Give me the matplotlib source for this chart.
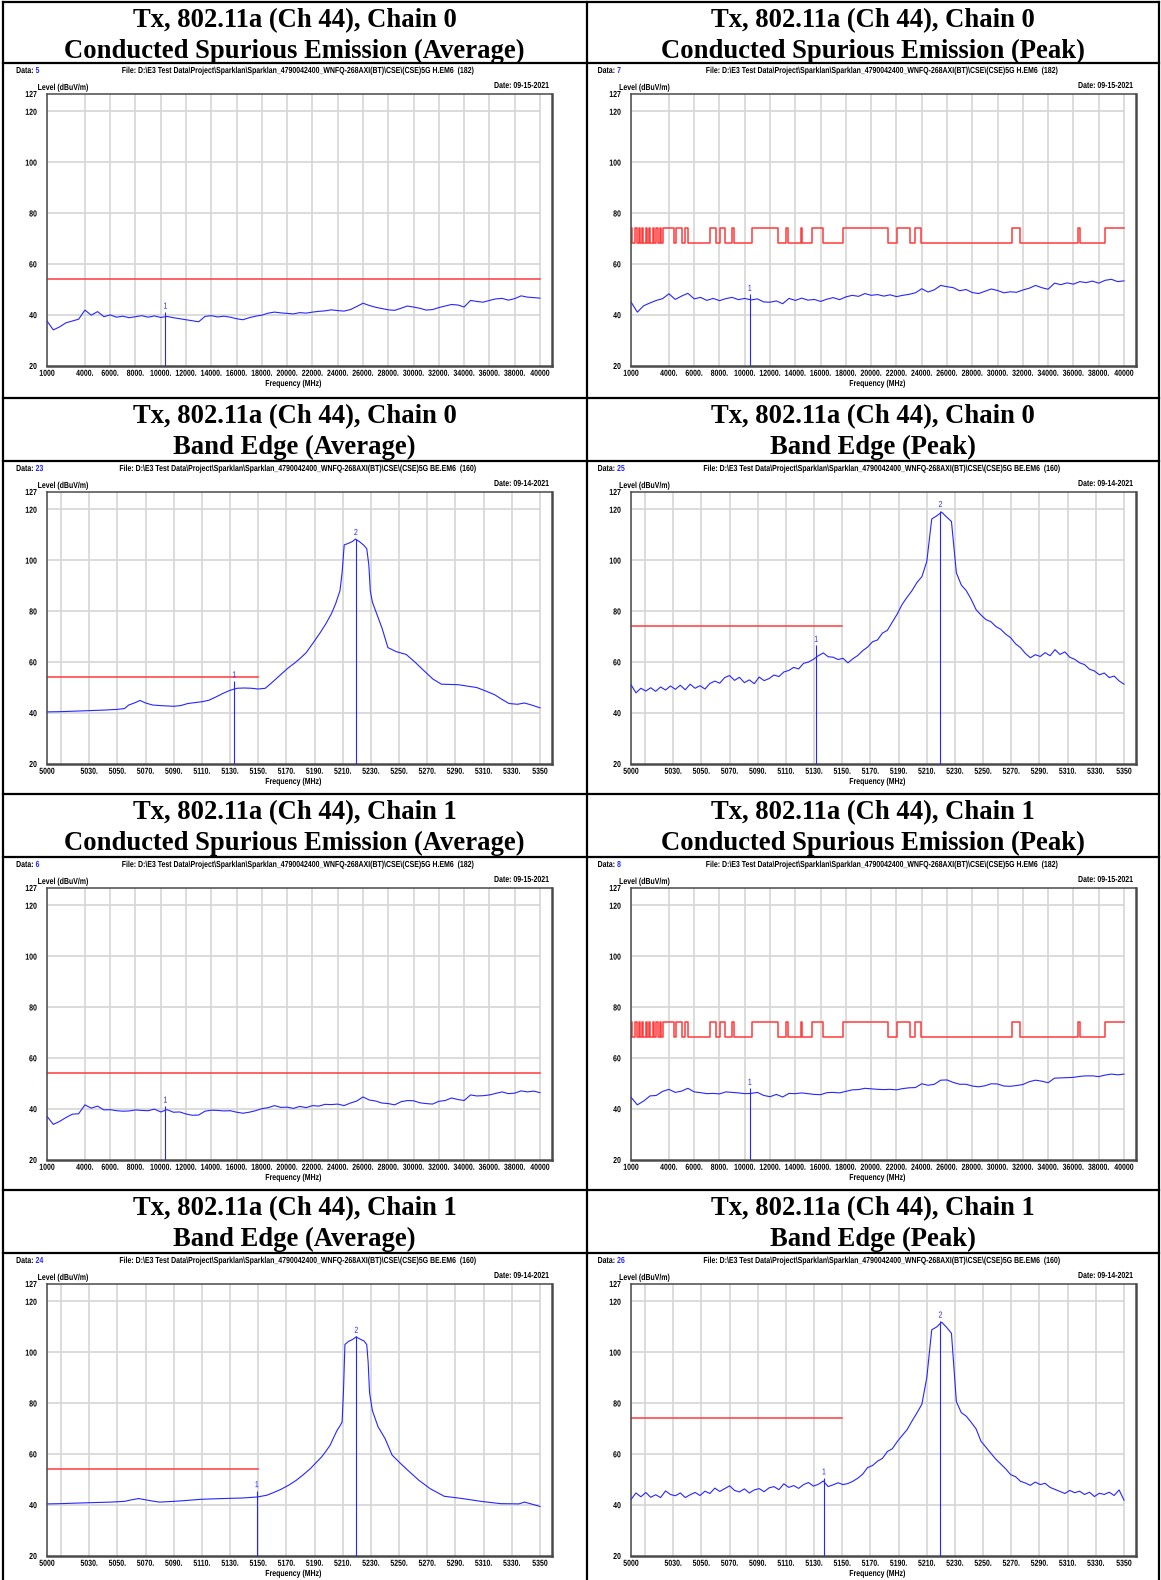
import numpy as np
import matplotlib
matplotlib.use('Agg')
import matplotlib.pyplot as plt
from matplotlib.lines import Line2D
from matplotlib.patheffects import AbstractPathEffect
from matplotlib.transforms import Affine2D

# ---------------- text ----------------
TITLE_1 = ['Tx, 802.11a (Ch 44), Chain 0', 'Tx, 802.11a (Ch 44), Chain 0',
           'Tx, 802.11a (Ch 44), Chain 0', 'Tx, 802.11a (Ch 44), Chain 0',
           'Tx, 802.11a (Ch 44), Chain 1', 'Tx, 802.11a (Ch 44), Chain 1',
           'Tx, 802.11a (Ch 44), Chain 1', 'Tx, 802.11a (Ch 44), Chain 1']
TITLE_2 = ['Conducted Spurious Emission (Average)', 'Conducted Spurious Emission (Peak)',
           'Band Edge (Average)', 'Band Edge (Peak)',
           'Conducted Spurious Emission (Average)', 'Conducted Spurious Emission (Peak)',
           'Band Edge (Average)', 'Band Edge (Peak)']
DATA_NO = ['5', '7', '23', '25', '6', '8', '24', '26']
FILE_SPUR = r'File: D:\E3 Test Data\Project\Sparklan\Sparklan_4790042400_WNFQ-268AXI(BT)\CSE\(CSE)5G H.EM6  (182)'
FILE_BE = r'File: D:\E3 Test Data\Project\Sparklan\Sparklan_4790042400_WNFQ-268AXI(BT)\CSE\(CSE)5G BE.EM6  (160)'
DATE_SPUR = 'Date: 09-15-2021'
DATE_BE = 'Date: 09-14-2021'

# ---------------- axes ticks ----------------
y_ticks = [20, 40, 60, 80, 100, 120, 127]
y_grid = [40, 60, 80, 100, 120]
spur_ticks = [1000, 4000, 6000, 8000, 10000, 12000, 14000, 16000, 18000, 20000,
              22000, 24000, 26000, 28000, 30000, 32000, 34000, 36000, 38000, 40000]
spur_tick_lbl = ['1000', '4000.', '6000.', '8000.', '10000.', '12000.', '14000.', '16000.',
                 '18000.', '20000.', '22000.', '24000.', '26000.', '28000.', '30000.',
                 '32000.', '34000.', '36000.', '38000.', '40000']
spur_grid = spur_ticks
be_ticks = [5000, 5030, 5050, 5070, 5090, 5110, 5130, 5150, 5170, 5190,
            5210, 5230, 5250, 5270, 5290, 5310, 5330, 5350]
be_tick_lbl = ['5000', '5030.', '5050.', '5070.', '5090.', '5110.', '5130.', '5150.', '5170.',
               '5190.', '5210.', '5230.', '5250.', '5270.', '5290.', '5310.', '5330.', '5350']
be_grid = [5000, 5010, 5030, 5050, 5070, 5090, 5110, 5130, 5150, 5170, 5190,
           5210, 5230, 5250, 5270, 5290, 5310, 5330, 5350]

# ---------------- traces ----------------
# spurious, 1000-40000 MHz, evenly swept
spur_avg_c0 = [37.5, 34.0, 35.2, 36.8, 37.5, 38.2, 41.8, 39.8, 41.2, 39.2,
               39.9, 39.0, 39.4, 38.8, 39.2, 39.6, 39.0, 39.5, 38.9, 39.3,
               38.8, 38.4, 38.0, 37.6, 37.2, 39.3, 39.6, 39.1, 39.4, 39.0,
               38.4, 38.0, 38.8, 39.4, 39.8, 40.6, 41.0, 40.7, 40.5, 40.3,
               40.8, 40.6, 41.0, 41.3, 41.5, 41.9, 41.6, 41.4, 42.0, 43.2,
               44.5, 43.6, 42.9, 42.4, 41.9, 41.7, 42.5, 43.4, 43.0, 42.5,
               41.8, 42.0, 42.8, 43.4, 44.0, 43.8, 43.0, 45.6, 45.2, 44.9,
               45.6, 46.2, 46.4, 45.7, 46.3, 47.4, 46.9, 46.7, 46.5]
spur_avg_c1 = [37.0, 33.8, 35.0, 36.5, 37.8, 38.0, 41.5, 40.2, 41.0, 39.5,
               39.6, 39.2, 39.0, 39.1, 39.5, 39.3, 39.2, 39.8, 38.7, 39.6,
               38.6, 38.7, 37.9, 37.4, 37.5, 39.0, 39.4, 39.3, 39.1, 39.2,
               38.6, 38.2, 38.6, 39.2, 40.0, 40.4, 41.2, 40.5, 40.6, 40.1,
               40.9, 40.4, 41.2, 41.0, 41.7, 41.6, 41.8, 41.2, 42.2, 43.0,
               44.6, 43.4, 43.0, 42.2, 42.0, 41.5, 42.7, 43.2, 43.1, 42.3,
               42.0, 41.8, 42.9, 43.2, 44.2, 43.6, 43.2, 45.4, 45.0, 45.1,
               45.4, 46.0, 46.6, 45.9, 46.1, 47.0, 46.6, 46.9, 46.3]
spur_pk_c0 = [45.0, 41.0, 43.5, 44.6, 45.6, 46.3, 48.2, 46.0, 47.3, 48.4,
              46.2, 46.8, 45.6, 46.4, 45.5, 46.3, 46.8, 45.9, 46.4, 45.8,
              46.2, 45.0, 44.9, 45.4, 44.3, 46.4, 45.6, 46.5, 45.7, 46.0,
              45.2, 46.1, 46.7, 45.9, 47.0, 47.6, 47.2, 48.3, 47.6, 47.9,
              47.3, 47.8, 47.1, 47.6, 48.0, 48.6, 50.2, 48.9, 49.8, 51.5,
              51.0, 50.6, 49.4, 49.9, 48.7, 48.3, 49.2, 50.1, 49.5, 48.6,
              49.0, 48.8, 49.7, 50.4, 51.5, 50.6, 50.0, 52.4, 51.8, 52.5,
              52.0, 53.0, 52.6, 53.2, 52.4, 53.5, 53.9, 53.0, 53.3]
spur_pk_c1 = [44.5, 41.5, 43.0, 45.0, 45.2, 46.8, 47.6, 46.4, 46.9, 48.0,
              46.6, 46.3, 45.9, 46.0, 45.8, 46.6, 46.4, 46.2, 45.9, 46.0,
              46.4, 45.2, 44.7, 45.6, 44.6, 46.0, 45.9, 46.2, 45.9, 45.6,
              45.5, 46.3, 46.4, 46.2, 46.8, 47.4, 47.5, 48.0, 47.8, 47.6,
              47.5, 47.6, 47.4, 47.9, 48.2, 48.3, 49.8, 49.2, 49.6, 51.2,
              51.3, 50.3, 49.6, 49.6, 48.9, 48.6, 49.0, 49.8, 49.7, 48.9,
              48.8, 49.1, 49.5, 50.6, 51.2, 50.8, 50.2, 52.0, 52.1, 52.2,
              52.3, 52.7, 52.9, 52.9, 52.6, 53.2, 53.6, 53.3, 53.6]

# band edge average (read at uneven frequencies)
be_avg_c0_f = [5000, 5010, 5020, 5030, 5040, 5050, 5055, 5058, 5062, 5066,
               5070, 5075, 5080, 5090, 5095, 5100, 5110, 5115, 5120, 5125,
               5130, 5135, 5140, 5145, 5150, 5155, 5160, 5166, 5171, 5176,
               5180, 5184, 5189, 5194, 5198, 5202, 5205, 5208, 5209.5, 5211,
               5214, 5217, 5219, 5222, 5225, 5227, 5228.5, 5229.5, 5231, 5234,
               5238, 5242, 5248, 5255, 5261, 5268, 5274, 5280, 5292, 5300,
               5305, 5312, 5318, 5323, 5328, 5334, 5339, 5344, 5350]
be_avg_c0_v = [40.3, 40.4, 40.6, 40.8, 41.0, 41.3, 41.6, 43.0, 43.8, 44.8,
               43.8, 43.0, 42.8, 42.5, 42.8, 43.6, 44.3, 44.9, 46.2, 47.6,
               48.8, 49.6, 49.7, 49.6, 49.3, 49.6, 52.0, 55.0, 57.5, 59.6,
               61.5, 63.6, 67.5, 71.5, 75.0, 79.0, 83.0, 88.0, 95.0, 106.0,
               106.6, 107.4, 108.3, 107.2, 105.8, 104.5, 98.0, 88.0, 83.5, 79.0,
               73.0, 65.6, 64.0, 62.9, 60.0, 56.3, 53.2, 51.2, 51.0, 50.3,
               49.9, 48.4, 47.0, 45.2, 43.6, 43.3, 43.8, 43.0, 41.9]
be_avg_c1_f = [5000, 5010, 5020, 5032, 5045, 5055, 5060, 5065, 5070, 5075,
               5080, 5090, 5098, 5109, 5124, 5138, 5149, 5156, 5161, 5166,
               5172, 5177, 5182, 5187, 5191, 5195, 5198, 5201, 5204, 5206,
               5208, 5209.5, 5210.5, 5211.5, 5214, 5217, 5219.5, 5222, 5225, 5227,
               5228, 5229, 5231, 5235, 5240, 5245, 5251, 5256, 5264, 5272,
               5282, 5295, 5308, 5322, 5335, 5339, 5343, 5350]
be_avg_c1_v = [40.3, 40.4, 40.6, 40.8, 41.0, 41.3, 41.9, 42.4, 41.9, 41.4,
               41.0, 41.3, 41.6, 42.1, 42.4, 42.6, 43.0, 43.7, 44.8, 46.0,
               47.8, 49.6, 51.8, 54.2, 56.5, 58.8, 61.0, 63.4, 67.0, 69.3,
               71.0, 72.5, 85.0, 103.0, 104.2, 105.0, 106.0, 105.2, 104.4, 103.0,
               96.0, 84.0, 77.0, 70.7, 66.0, 59.5, 56.2, 53.6, 49.6, 46.3,
               43.3, 42.4, 41.3, 40.4, 40.3, 41.0, 40.4, 39.3]

# band edge peak, 5000-5350 MHz, evenly swept
be_pk_c0 = [51.0, 47.8, 49.6, 48.5, 49.8, 48.4, 50.1, 48.9, 50.5, 49.2,
            50.8, 49.0, 51.2, 49.6, 50.6, 49.3, 51.5, 52.4, 51.6, 53.8,
            54.6, 52.7, 53.9, 51.8, 52.9, 51.4, 54.0, 52.6, 53.4, 54.8,
            54.2, 56.0, 56.6, 57.8, 57.2, 59.4, 59.9, 61.0, 62.4, 63.5,
            62.0, 61.8, 60.9, 61.4, 59.6, 61.2, 62.5, 64.4, 65.8, 67.9,
            68.6, 71.3, 72.4, 75.6, 78.8, 82.6, 85.4, 88.0, 91.2, 93.5,
            99.5, 116.2, 117.4, 118.9, 117.0, 115.2, 95.0, 90.2, 88.0, 84.6,
            80.5, 78.4, 76.6, 75.8, 73.9, 72.8, 70.9, 69.5, 67.1, 65.6,
            63.3, 61.6, 62.8, 62.1, 63.6, 62.4, 64.8, 62.9, 63.9, 61.8,
            61.0, 59.6, 58.9, 57.1, 56.4, 54.9, 55.6, 53.8, 54.4, 52.5,
            51.2]
be_pk_c1 = [42.0, 44.6, 43.1, 44.8, 42.9, 43.9, 42.8, 45.4, 44.0, 43.5,
            44.6, 42.8, 43.9, 44.8, 43.6, 45.3, 44.4, 46.5, 45.2, 46.3,
            47.4, 45.6, 45.0, 46.2, 44.6, 45.8, 46.3, 45.1, 46.6, 47.1,
            45.9, 48.2, 46.8, 47.5, 46.4, 47.9, 48.7, 47.3, 48.0, 49.3,
            47.1, 47.8, 48.6, 47.9, 48.3, 49.2, 50.4, 52.0, 54.6, 55.4,
            57.1, 58.2, 60.9, 62.0, 64.8, 67.2, 69.5, 72.9, 76.1, 79.5,
            90.0, 108.8, 109.9, 111.8, 109.8, 107.4, 80.5, 76.2, 74.8, 72.4,
            69.8, 64.9, 62.6, 60.2, 57.9, 56.0, 54.1, 51.8, 51.0, 49.2,
            48.5, 47.6, 48.9, 47.9, 48.4, 46.8, 46.0, 45.2, 44.4, 45.6,
            44.7, 45.3, 44.0, 44.9, 43.2, 44.5, 44.0, 44.9, 43.6, 45.8,
            41.8]

# ---------------- limits ----------------
avg_limit = 54.0
pk_limit_hi = 74.0
pk_limit_lo = 68.2
be_limit_end = 5150
# spurious peak limit: frequency spans where the 74 dBuV/m limit applies
pk_limit_spans = [(1000, 1110), (1340, 1455), (1600, 1750), (1895, 1980), (2160, 2275),
                  (2420, 2510), (2715, 2800), (3005, 3120), (3270, 3355), (3530, 4410),
                  (4555, 5055), (5290, 5490), (7245, 7745), (8035, 8415), (9000, 9145),
                  (10550, 12655), (13270, 13385), (14470, 14555), (15345, 16165),
                  (17770, 21370), (22010, 23035), (23475, 23970), (31135, 31810),
                  (36340, 36485), (38530, 40000)]

# ---------------- markers ----------------
mk_f = [[10370], [10400], [5133, 5219.3], [5131.5, 5219.7],
        [10370], [10400], [5149, 5219.6], [5137, 5219.7]]
mk_lv = [[41.0], [48.0], [52.5, 108.5], [66.5, 119.5],
         [41.0], [48.0], [45.5, 106.2], [50.5, 112.2]]

# ---------------- layout ----------------
W, H = 1161, 1580
COL_X = [2.5, 586.5]
RIGHT_X = 1158.5
ROW_Y = [2, 62.5, 398, 460.5, 794, 856.5, 1190, 1252.5]

SANS = ['Liberation Sans', 'DejaVu Sans']
SERIF = ['Liberation Serif', 'DejaVu Serif']
BLUE = '#2626ff'
RED = '#ff3a3a'
GRID = '#d6d6d6'
FRAME = '#4a4a4a'
SMALL = 6.3
FILE_W = 354.0   # pixel width of the file path line in the reference


class Squeeze(AbstractPathEffect):
    """Narrow the glyphs horizontally (the reference uses a condensed face)."""

    def __init__(self, sx, anchor='center'):
        super().__init__()
        self.sx = sx
        self.anchor = anchor

    def draw_path(self, renderer, gc, tpath, affine, rgbFace=None):
        ext = tpath.get_extents(affine)
        x = {'left': ext.x0, 'center': 0.5 * (ext.x0 + ext.x1), 'right': ext.x1}[self.anchor]
        sq = Affine2D().translate(-x, 0).scale(self.sx, 1).translate(x, 0)
        renderer.draw_path(gc, tpath, affine + sq, rgbFace)


fig = plt.figure(figsize=(W / 100, H / 100), dpi=100)
fig.patch.set_facecolor('white')

# how much to squeeze: make the file line as wide as in the reference
renderer = fig.canvas.get_renderer()
probe = fig.text(0, 0, FILE_SPUR, family=SANS, weight='bold', fontsize=SMALL)
SQ = FILE_W / probe.get_window_extent(renderer).width
probe.remove()


def fx(x):
    return x / W


def fy(y):
    return 1 - y / H


def step_limit(spans, lo, hi, f0, f1):
    xs, ys = [f0], [lo]
    for a, b in spans:
        xs += [a, a, b]
        ys += [lo, hi, hi]
        if b < f1:
            xs.append(b)
            ys.append(lo)
    if spans[-1][1] < f1:
        xs.append(f1)
        ys.append(lo)
    return xs, ys


def small_text(x, y, s, ha='left', **kw):
    fig.text(fx(x), fy(y), s, family=SANS, weight='bold', fontsize=SMALL, ha=ha,
             va='center', path_effects=[Squeeze(SQ, ha)], **kw)


def draw_panel(i):
    row, col = i // 2, i % 2
    x0 = COL_X[col]
    top = ROW_Y[2 * row]
    ct = ROW_Y[2 * row + 1]
    spur = row in (0, 2)
    peak = col == 1

    # table cell title
    cx = (x0 + (COL_X[1] if col == 0 else RIGHT_X)) / 2
    fig.text(fx(cx), fy(top + 19), TITLE_1[i], ha='center', va='center',
             family=SERIF, weight='bold', fontsize=19.2)
    fig.text(fx(cx), fy(top + 49.5), TITLE_2[i], ha='center', va='center',
             family=SERIF, weight='bold', fontsize=19.2)

    # chart header
    dx = 13.5 if col == 0 else 11.0
    small_text(x0 + dx, ct + 8, 'Data:')
    small_text(x0 + dx + 19.5, ct + 8, DATA_NO[i], color=BLUE)
    small_text(x0 + 296.5, ct + 8, FILE_SPUR if spur else FILE_BE, ha='center')
    small_text(x0 + dx + 21.5, ct + 25, 'Level (dBuV/m)')
    small_text(x0 + 547, ct + 23, DATE_SPUR if spur else DATE_BE, ha='right')
    small_text(x0 + 291, ct + 321, 'Frequency (MHz)', ha='center')

    L, R = x0 + 44.5, x0 + 549.5
    T, B = ct + 31, ct + 303
    ax = fig.add_axes([fx(L), fy(B), (R - L) / W, (B - T) / H])

    if spur:
        xmin, xmax = 1000, 40000
        ticks, labels, grid = spur_ticks, spur_tick_lbl, spur_grid
    else:
        xmin, xmax = 5000, 5350
        ticks, labels, grid = be_ticks, be_tick_lbl, be_grid
    xframe = xmax + (xmax - xmin) * 12.0 / 493.0
    ax.set_xlim(xmin, xframe)
    ax.set_ylim(20, 127)

    ax.vlines(grid, 20, 127, color=GRID, lw=1.2, zorder=0)
    ax.hlines(y_grid, xmin, xmax, color=GRID, lw=1.2, zorder=0)

    # limit line
    if spur and peak:
        lx, ly = step_limit(pk_limit_spans, pk_limit_lo, pk_limit_hi, xmin, xmax)
        ax.plot(lx, ly, color=RED, lw=1.1, zorder=2)
    elif spur:
        ax.plot([xmin, xmax], [avg_limit, avg_limit], color=RED, lw=1.1, zorder=2)
    else:
        lv = pk_limit_hi if peak else avg_limit
        ax.plot([xmin, be_limit_end], [lv, lv], color=RED, lw=1.1, zorder=2)

    # trace
    if spur:
        vals = [spur_avg_c0, spur_pk_c0, None, None, spur_avg_c1, spur_pk_c1][i]
        ax.plot(np.linspace(xmin, xmax, len(vals)), vals, color=BLUE, lw=0.8, zorder=3)
    elif peak:
        vals = be_pk_c0 if row == 1 else be_pk_c1
        ax.plot(np.linspace(xmin, xmax, len(vals)), vals, color=BLUE, lw=0.8, zorder=3)
    else:
        f = be_avg_c0_f if row == 1 else be_avg_c1_f
        v = be_avg_c0_v if row == 1 else be_avg_c1_v
        ax.plot(f, v, color=BLUE, lw=0.8, zorder=3)

    # markers
    for k, (mf, ml) in enumerate(zip(mk_f[i], mk_lv[i])):
        ax.vlines(mf, 20, ml, color=BLUE, lw=0.8, zorder=4)
        ax.text(mf, ml + 0.6, str(k + 1), color=BLUE, ha='center', va='bottom',
                fontsize=SMALL, family=SANS, path_effects=[Squeeze(SQ, 'center')])

    ax.set_yticks(y_ticks)
    ax.set_yticklabels([str(t) for t in y_ticks])
    ax.set_xticks(ticks)
    ax.set_xticklabels(labels)
    ax.tick_params(length=0, labelsize=SMALL)
    ax.tick_params(axis='x', pad=2.4)
    ax.tick_params(axis='y', pad=7.2)
    for lab in ax.get_xticklabels():
        lab.set_family(SANS)
        lab.set_weight('bold')
        lab.set_path_effects([Squeeze(SQ, 'center')])
    for lab in ax.get_yticklabels():
        lab.set_family(SANS)
        lab.set_weight('bold')
        lab.set_path_effects([Squeeze(SQ, 'right')])
    for side, sp in ax.spines.items():
        sp.set_color(FRAME)
        sp.set_linewidth(1.8 if side in ('right', 'bottom') else 1.1)


for i in range(8):
    draw_panel(i)

# table rules
for y in ROW_Y:
    fig.add_artist(Line2D([fx(COL_X[0]), fx(RIGHT_X)], [fy(y), fy(y)], color='black', lw=1.6))
for x in COL_X + [RIGHT_X]:
    fig.add_artist(Line2D([fx(x), fx(x)], [fy(ROW_Y[0]), fy(H)], color='black', lw=1.6))

fig.savefig('out.png', dpi=100)
